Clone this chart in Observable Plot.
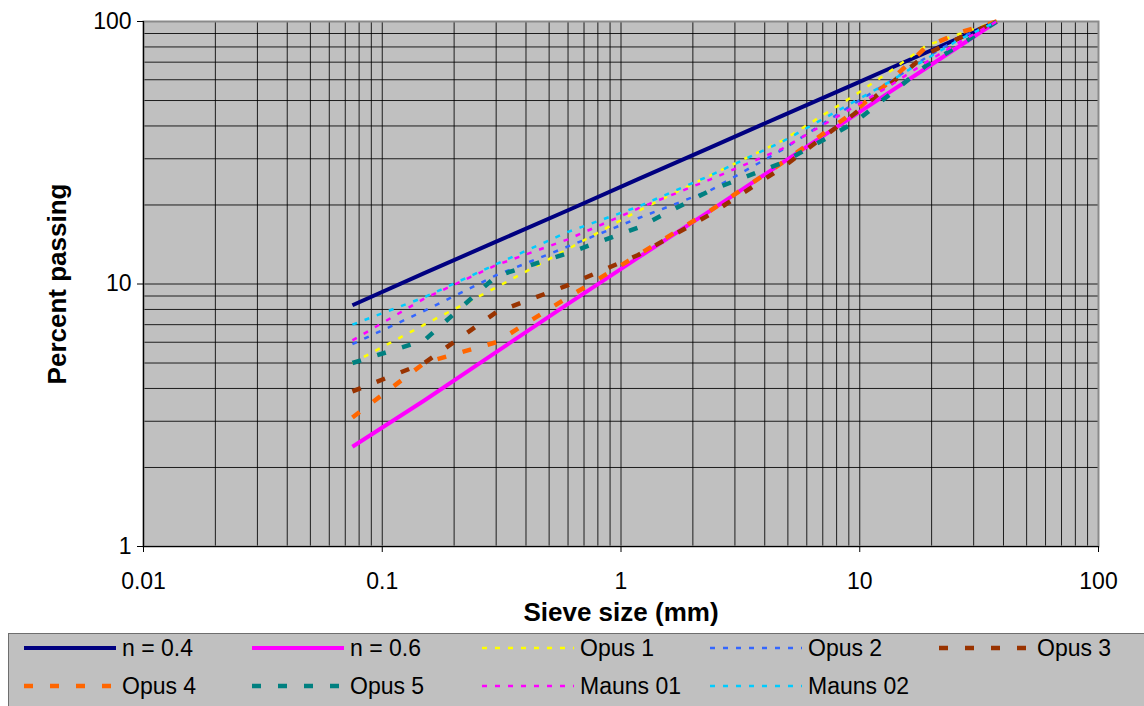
<!DOCTYPE html>
<html>
<head>
<meta charset="utf-8">
<script src="https://cdn.jsdelivr.net/npm/d3@7"></script>
<script src="https://cdn.jsdelivr.net/npm/@observablehq/plot@0.6"></script>
<style>
  html, body { margin: 0; padding: 0; background: #ffffff; }
  #wrap { width: 1144px; height: 706px; overflow: hidden; position: relative; font-family: "Liberation Sans", Arial, sans-serif; }
  #legend { position: relative; width: 1144px; height: 73px; }
  #legend .box { position: absolute; left: 8px; top: 0; right: -6px; bottom: -6px; background: #c0c0c0; border-top: 1px solid #6e6e6e; border-left: 1px solid #6e6e6e; }
  #legend .item { position: absolute; height: 30px; display: flex; align-items: center; }
  #legend .item svg { display: block; }
  #legend .item span { font-size: 23px; color: #000; margin-left: 6px; white-space: nowrap; line-height: 1; }
</style>
</head>
<body>
<div id="wrap"></div>
<script>
// ---- data ----
const sieve    = [0.075, 0.15, 0.3, 0.6, 1.18, 2.36, 4.75, 9.5, 13.2, 19, 26.5, 37.5];
const n04      = [8.3, 11.0, 14.5, 19.1, 25.1, 33.1, 43.8, 57.7, 65.9, 76.2, 87.0, 100];
const n06      = [2.4, 3.6, 5.5, 8.4, 12.6, 19.0, 29.0, 43.9, 53.5, 66.5, 81.2, 100];
const opus1    = [5.0, 7.0, 9.7, 13.6, 19.0, 25.9, 35.2, 52.3, 64.0, 81.0, 90.0, 100];
const opus2    = [5.9, 7.9, 10.8, 13.9, 17.8, 22.7, 32.5, 48.7, 58.6, 73.0, 87.0, 100];
const opus3    = [3.9, 5.0, 7.8, 9.9, 12.9, 18.4, 27.8, 44.5, 57.0, 75.0, 87.0, 100];
const opus4    = [3.1, 5.0, 6.0, 8.9, 12.9, 19.0, 29.0, 45.4, 58.6, 80.0, 91.0, 100];
const opus5    = [5.0, 6.1, 10.7, 13.1, 16.4, 22.7, 29.0, 41.2, 52.3, 68.0, 81.7, 100];
const mauns01  = [6.1, 8.8, 11.8, 14.8, 19.4, 25.0, 32.8, 47.4, 56.5, 70.0, 84.0, 100];
const mauns02  = [7.0, 8.9, 11.9, 15.8, 19.7, 25.9, 34.9, 49.6, 58.6, 72.0, 86.0, 100];

const seriesNames = ["n = 0.4", "n = 0.6", "Opus 1", "Opus 2", "Opus 3", "Opus 4", "Opus 5", "Mauns 01", "Mauns 02"];
const seriesValues = [n04, n06, opus1, opus2, opus3, opus4, opus5, mauns01, mauns02];

const xTicks = [0.01, 0.1, 1, 10, 100];
const xTickLabels = ["0.01", "0.1", "1", "10", "100"];
const yTicks = [1, 10, 100];
const yTickLabels = ["1", "10", "100"];
const xTitle = "Sieve size (mm)";
const yTitle = "Percent passing";

// ---- styles ----
const DOT = "5,8";
const DASH = "9,17";
const styles = [
  {stroke: "#000080", width: 4,   dash: null},
  {stroke: "#ff00ff", width: 4,   dash: null},
  {stroke: "#ffff00", width: 2.5, dash: DOT},
  {stroke: "#3366ff", width: 2.5, dash: DOT},
  {stroke: "#993300", width: 4.5, dash: DASH},
  {stroke: "#ff6600", width: 4.5, dash: DASH},
  {stroke: "#008080", width: 4.5, dash: DASH},
  {stroke: "#ff00ff", width: 2.5, dash: DOT},
  {stroke: "#00ccff", width: 2.5, dash: DOT}
];

// table
const rows = [];
seriesNames.forEach((name, s) => {
  seriesValues[s].forEach((v, i) => rows.push({series: name, x: sieve[i], y: v}));
});

// log grid lines (1..9 per decade)
const gridX = [];
[0.01, 0.1, 1, 10].forEach(d => { for (let k = 1; k <= 9; k++) gridX.push(+(d * k).toPrecision(3)); });
gridX.push(100);
const gridY = [];
[1, 10].forEach(d => { for (let k = 1; k <= 9; k++) gridY.push(d * k); });
gridY.push(100);

const xLab = new Map(xTicks.map((t, i) => [t, xTickLabels[i]]));
const yLab = new Map(yTicks.map((t, i) => [t, yTickLabels[i]]));

const lineMarks = seriesNames.map((name, s) =>
  Plot.line(rows.filter(r => r.series === name), {
    x: "x", y: "y",
    stroke: styles[s].stroke,
    strokeWidth: styles[s].width,
    strokeDasharray: styles[s].dash,
    strokeLinecap: "butt",
    strokeLinejoin: "round"
  })
);

const chart = Plot.plot({
  width: 1144,
  height: 633,
  marginLeft: 143,
  marginRight: 46,
  marginTop: 21,
  marginBottom: 87,
  x: {type: "log", domain: [0.01, 100]},
  y: {type: "log", domain: [1, 100]},
  style: {fontFamily: "'Liberation Sans', Arial, sans-serif", fontSize: "23px", background: "#ffffff", color: "#000000", overflow: "visible"},
  marks: [
    Plot.frame({fill: "#c0c0c0"}),
    Plot.ruleX(gridX, {stroke: "#000000", strokeWidth: 1, strokeOpacity: 0.85}),
    Plot.ruleY(gridY, {stroke: "#000000", strokeWidth: 1, strokeOpacity: 0.85}),
    Plot.frame({stroke: "#8a8a8a", strokeWidth: 2}),
    Plot.ruleX([0.01], {stroke: "#000000", strokeWidth: 1.2}),
    Plot.ruleY([1], {stroke: "#000000", strokeWidth: 1.2}),
    Plot.axisX({ticks: xTicks, tickFormat: d => xLab.get(d), tickSize: 6, tickPadding: 20, label: null, fontSize: 23, stroke: "#000"}),
    Plot.axisY({ticks: yTicks, tickFormat: d => yLab.get(d), tickSize: 6, tickPadding: 6, label: null, fontSize: 23, stroke: "#000"}),
    ...lineMarks,
    Plot.text([xTitle], {frameAnchor: "bottom", dy: 66, textAnchor: "middle", lineAnchor: "middle", fontWeight: "bold", fontSize: 26, fill: "#000"}),
    Plot.text([yTitle], {frameAnchor: "left", dx: -86, rotate: -90, textAnchor: "middle", lineAnchor: "middle", fontWeight: "bold", fontSize: 26, fill: "#000"})
  ]
});

const wrap = document.getElementById("wrap");
wrap.appendChild(chart);

// ---- legend ----
const legend = document.createElement("div");
legend.id = "legend";
const box = document.createElement("div");
box.className = "box";
legend.appendChild(box);
const colStart = [24, 252, 482, 710, 939];
const rowTop = [0, 38];
seriesNames.forEach((name, s) => {
  const col = s % 5, row = Math.floor(s / 5);
  const item = document.createElement("div");
  item.className = "item";
  item.style.left = colStart[col] + "px";
  item.style.top = rowTop[row] + "px";
  const st = styles[s];
  const sw = d3.create("svg").attr("width", 92).attr("height", 10);
  sw.append("line").attr("x1", 0).attr("x2", 92).attr("y1", 5).attr("y2", 5)
    .attr("stroke", st.stroke).attr("stroke-width", st.width)
    .attr("stroke-dasharray", st.dash)
    .attr("stroke-linecap", st.dash ? "butt" : "round");
  item.appendChild(sw.node());
  const t = document.createElement("span");
  t.textContent = name;
  item.appendChild(t);
  legend.appendChild(item);
});
wrap.appendChild(legend);
</script>
</body>
</html>
